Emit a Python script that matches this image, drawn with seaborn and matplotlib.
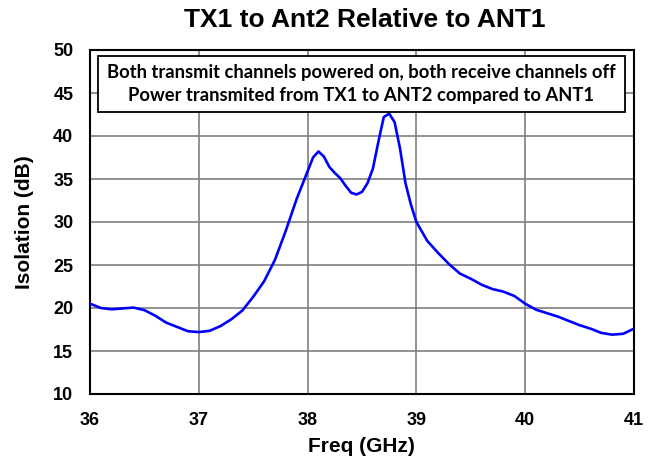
import matplotlib
matplotlib.use("Agg")
import matplotlib.pyplot as plt
from matplotlib.patches import Rectangle
import pandas as pd
import seaborn as sns

# Measured isolation, TX1 -> ANT2 relative to ANT1
freq_ghz = [36.0, 36.1, 36.2, 36.3, 36.4, 36.5, 36.6, 36.7, 36.8, 36.9,
            37.0, 37.1, 37.2, 37.3, 37.4, 37.5, 37.6, 37.7, 37.8, 37.9,
            38.0, 38.05, 38.1, 38.15, 38.2, 38.25, 38.3, 38.35, 38.4, 38.45,
            38.5, 38.55, 38.6, 38.65, 38.7, 38.75, 38.8, 38.85, 38.9, 38.95,
            39.0, 39.1, 39.2, 39.3, 39.4, 39.5, 39.6, 39.7, 39.8, 39.9,
            40.0, 40.1, 40.2, 40.3, 40.4, 40.5, 40.6, 40.7, 40.8, 40.9, 41.0]
isolation_db = [20.5, 20.0, 19.85, 19.95, 20.05, 19.75, 19.1, 18.3, 17.8, 17.3,
                17.2, 17.35, 17.9, 18.7, 19.7, 21.3, 23.1, 25.6, 29.0, 32.7,
                35.9, 37.5, 38.2, 37.6, 36.4, 35.7, 35.1, 34.2, 33.4, 33.2,
                33.5, 34.5, 36.2, 39.3, 42.2, 42.6, 41.6, 38.5, 34.5, 32.0,
                30.0, 27.8, 26.4, 25.1, 24.0, 23.4, 22.7, 22.2, 21.9, 21.4,
                20.5, 19.8, 19.4, 19.0, 18.5, 18.0, 17.6, 17.1, 16.9, 17.0, 17.6]

x_ticks = [36, 37, 38, 39, 40, 41]
y_ticks = [10, 15, 20, 25, 30, 35, 40, 45, 50]

note_lines = ["Both transmit channels powered on, both receive channels off",
              "Power transmited from TX1 to ANT2 compared to ANT1"]

df = pd.DataFrame({"Freq (GHz)": freq_ghz, "Isolation (dB)": isolation_db})

sns.set_theme(style="white")
plt.rcParams["font.family"] = ["Liberation Sans", "DejaVu Sans"]

fig = plt.figure(figsize=(6.58, 4.63), dpi=100)
ax = fig.add_axes([90 / 658, 1 - 394 / 463, 544 / 658, 344 / 463])

sns.lineplot(data=df, x="Freq (GHz)", y="Isolation (dB)", ax=ax,
             color="#0000FF", linewidth=1.9, zorder=3)

ax.set_xlim(36, 41)
ax.set_ylim(10, 50)
ax.set_xticks(x_ticks)
ax.set_yticks(y_ticks)
ax.set_xticklabels([str(t) for t in x_ticks], fontweight="bold", fontsize=13,
                   color="black")
ax.set_yticklabels([str(t) for t in y_ticks], fontweight="bold", fontsize=13,
                   color="black")
ax.tick_params(axis="y", length=0, pad=12)
ax.tick_params(axis="x", length=0, pad=13)

ax.grid(True, color="#7f7f7f", linewidth=1.2)
ax.set_axisbelow(True)
for sp in ax.spines.values():
    sp.set_color("black")
    sp.set_linewidth(1.5)

ax.set_xlabel("")
ax.set_ylabel("")
fig.text(361 / 658, 1 - 447 / 463, "Freq (GHz)", ha="center", va="center",
         fontsize=15, fontweight="bold", color="black")
fig.text(25 / 658, 1 - 222 / 463, "Isolation (dB)", ha="center", va="center",
         rotation=90, fontsize=15, fontweight="bold", color="black")
fig.text(365 / 658, 1 - 20 / 463, "TX1 to Ant2 Relative to ANT1",
         ha="center", va="center", fontsize=19, fontweight="bold", color="black")

# Note box across the top of the plot area
bx0, bx1 = (98 - 90) / 544, (625 - 90) / 544
by0, by1 = (394 - 112) / 344, (394 - 56) / 344
ax.add_patch(Rectangle((bx0, by0), bx1 - bx0, by1 - by0, transform=ax.transAxes,
                       facecolor="white", edgecolor="black", linewidth=1.3, zorder=4))
ax.text((bx0 + bx1) / 2, (by0 + by1) / 2, "\n".join(note_lines),
        transform=ax.transAxes, ha="center", va="center", fontsize=13.2,
        fontweight="bold", family=["Lato", "DejaVu Sans"], linespacing=1.4,
        color="black", zorder=5)

fig.savefig("out.png", dpi=100)
